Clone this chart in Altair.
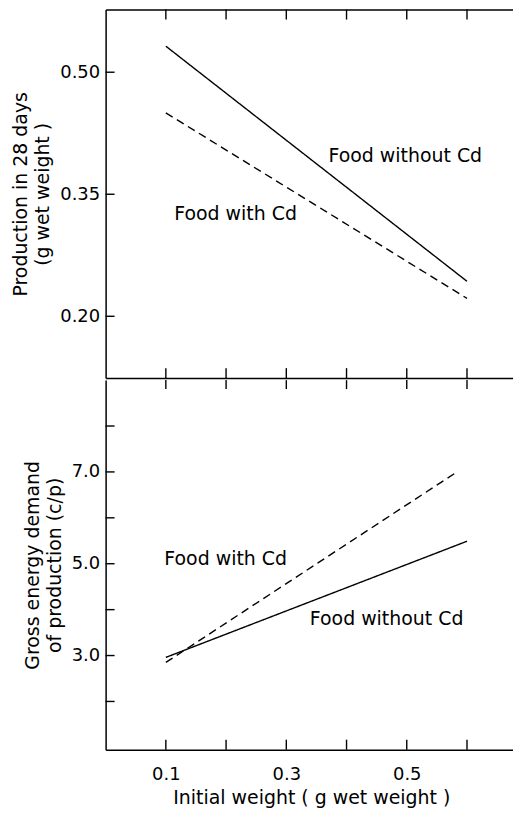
import altair as alt
import pandas as pd

FONT = "DejaVu Sans"

# ---- data ----
series = ["Food without Cd", "Food with Cd"]

prod_x = [0.1, 0.6]
prod_without = [0.532, 0.243]
prod_with = [0.450, 0.222]

gross_x_without = [0.1, 0.6]
gross_without = [2.96, 5.49]
gross_x_with = [0.1, 0.581]
gross_with = [2.85, 6.98]

x_ticks = [0.1, 0.2, 0.3, 0.4, 0.5, 0.6]
x_labels = [0.1, 0.3, 0.5]
prod_ticks = [0.20, 0.35, 0.50]
gross_ticks = [2, 3, 4, 5, 6, 7, 8]
gross_labels = [3, 5, 7]

top_label_x = [0.370, 0.114]
top_label_y = [0.397, 0.326]
bot_label_x = [0.339, 0.0975]
bot_label_y = [3.79, 5.10]

# ---- layout ----
W = 413
H1 = 370
H2 = 371
TICK = 10
LW = 1.4

xscale = alt.Scale(domain=[0, 0.683], nice=False, zero=False)
ytop = alt.Scale(domain=[0.124, 0.577], nice=False, zero=False)
ybot = alt.Scale(domain=[0.95, 9.0], nice=False, zero=False)
dash = alt.Scale(domain=series, range=[[1, 0], [8, 5]])

def bare_x_axis(orient):
    return alt.Axis(orient=orient, title=None, labels=False, ticks=False,
                    grid=False, domain=True, minExtent=0, maxExtent=0, offset=0)

def xticks_rule(y0, y1, axis):
    return alt.Chart(pd.DataFrame({"v": x_ticks})).mark_rule(
        color="black", strokeWidth=LW
    ).encode(
        x=alt.X("v:Q", scale=xscale, axis=axis),
        y=alt.value(y0), y2=alt.value(y1),
    )

def yticks_rule(vals, scale):
    return alt.Chart(pd.DataFrame({"v": vals})).mark_rule(
        color="black", strokeWidth=LW
    ).encode(
        y=alt.Y("v:Q", scale=scale, axis=None),
        x=alt.value(0), x2=alt.value(9),
    )

# ---- top panel ----
top_df = pd.DataFrame({
    "x": prod_x + prod_x,
    "y": prod_without + prod_with,
    "s": [series[0]] * len(prod_x) + [series[1]] * len(prod_x),
})
lines_top = alt.Chart(top_df).mark_line(color="black", strokeWidth=LW).encode(
    x=alt.X("x:Q", scale=xscale, axis=bare_x_axis("bottom")),
    y=alt.Y("y:Q", scale=ytop,
            axis=alt.Axis(orient="left", title=["Production in 28 days", "(g wet weight )"],
                          values=prod_ticks, format=".2f", ticks=False, grid=False,
                          labelPadding=6, titlePadding=7)),
    strokeDash=alt.StrokeDash("s:N", scale=dash, legend=None),
)
text_top = alt.Chart(pd.DataFrame({"x": top_label_x, "y": top_label_y, "t": series})).mark_text(
    align="left", baseline="middle", font=FONT, fontSize=19, color="black"
).encode(
    x=alt.X("x:Q", scale=xscale, axis=None),
    y=alt.Y("y:Q", scale=ytop, axis=None),
    text="t:N",
)
top = alt.layer(
    lines_top,
    text_top,
    yticks_rule(prod_ticks, ytop),
    xticks_rule(0, TICK, bare_x_axis("top")),
    xticks_rule(H1 - TICK, H1, None),
).resolve_axis(x="independent", y="independent").properties(width=W, height=H1)

# ---- bottom panel ----
bot_df = pd.DataFrame({
    "x": gross_x_without + gross_x_with,
    "y": gross_without + gross_with,
    "s": [series[0]] * len(gross_x_without) + [series[1]] * len(gross_x_with),
})
lines_bot = alt.Chart(bot_df).mark_line(color="black", strokeWidth=LW).encode(
    x=alt.X("x:Q", scale=xscale,
            axis=alt.Axis(orient="bottom", title="Initial weight ( g wet weight )",
                          values=x_labels, format=".1f", ticks=False, grid=False,
                          labelPadding=16, titlePadding=5)),
    y=alt.Y("y:Q", scale=ybot,
            axis=alt.Axis(orient="left", title=["Gross energy demand", "of production (c/p)"],
                          values=gross_labels, format=".1f", ticks=False, grid=False,
                          labelPadding=6, titlePadding=7)),
    strokeDash=alt.StrokeDash("s:N", scale=dash, legend=None),
)
text_bot = alt.Chart(pd.DataFrame({"x": bot_label_x, "y": bot_label_y, "t": series})).mark_text(
    align="left", baseline="middle", font=FONT, fontSize=19, color="black"
).encode(
    x=alt.X("x:Q", scale=xscale, axis=None),
    y=alt.Y("y:Q", scale=ybot, axis=None),
    text="t:N",
)
bottom = alt.layer(
    lines_bot,
    text_bot,
    yticks_rule(gross_ticks, ybot),
    xticks_rule(0, TICK - 1, None),
    xticks_rule(H2 - TICK, H2, None),
).resolve_axis(x="independent", y="independent").properties(width=W, height=H2)

chart = alt.vconcat(top, bottom, spacing=0).properties(
    padding={"left": 3, "top": -1, "right": -4, "bottom": 0}
).configure_view(stroke=None).configure_axis(
    labelFont=FONT, titleFont=FONT, labelFontSize=18, titleFontSize=19,
    labelColor="black", titleColor="black", titleFontWeight="normal",
    domainColor="black", domainWidth=1.5, titleLineHeight=22,
)

chart.save("out.html", embed_options={"renderer": "svg", "actions": False})
